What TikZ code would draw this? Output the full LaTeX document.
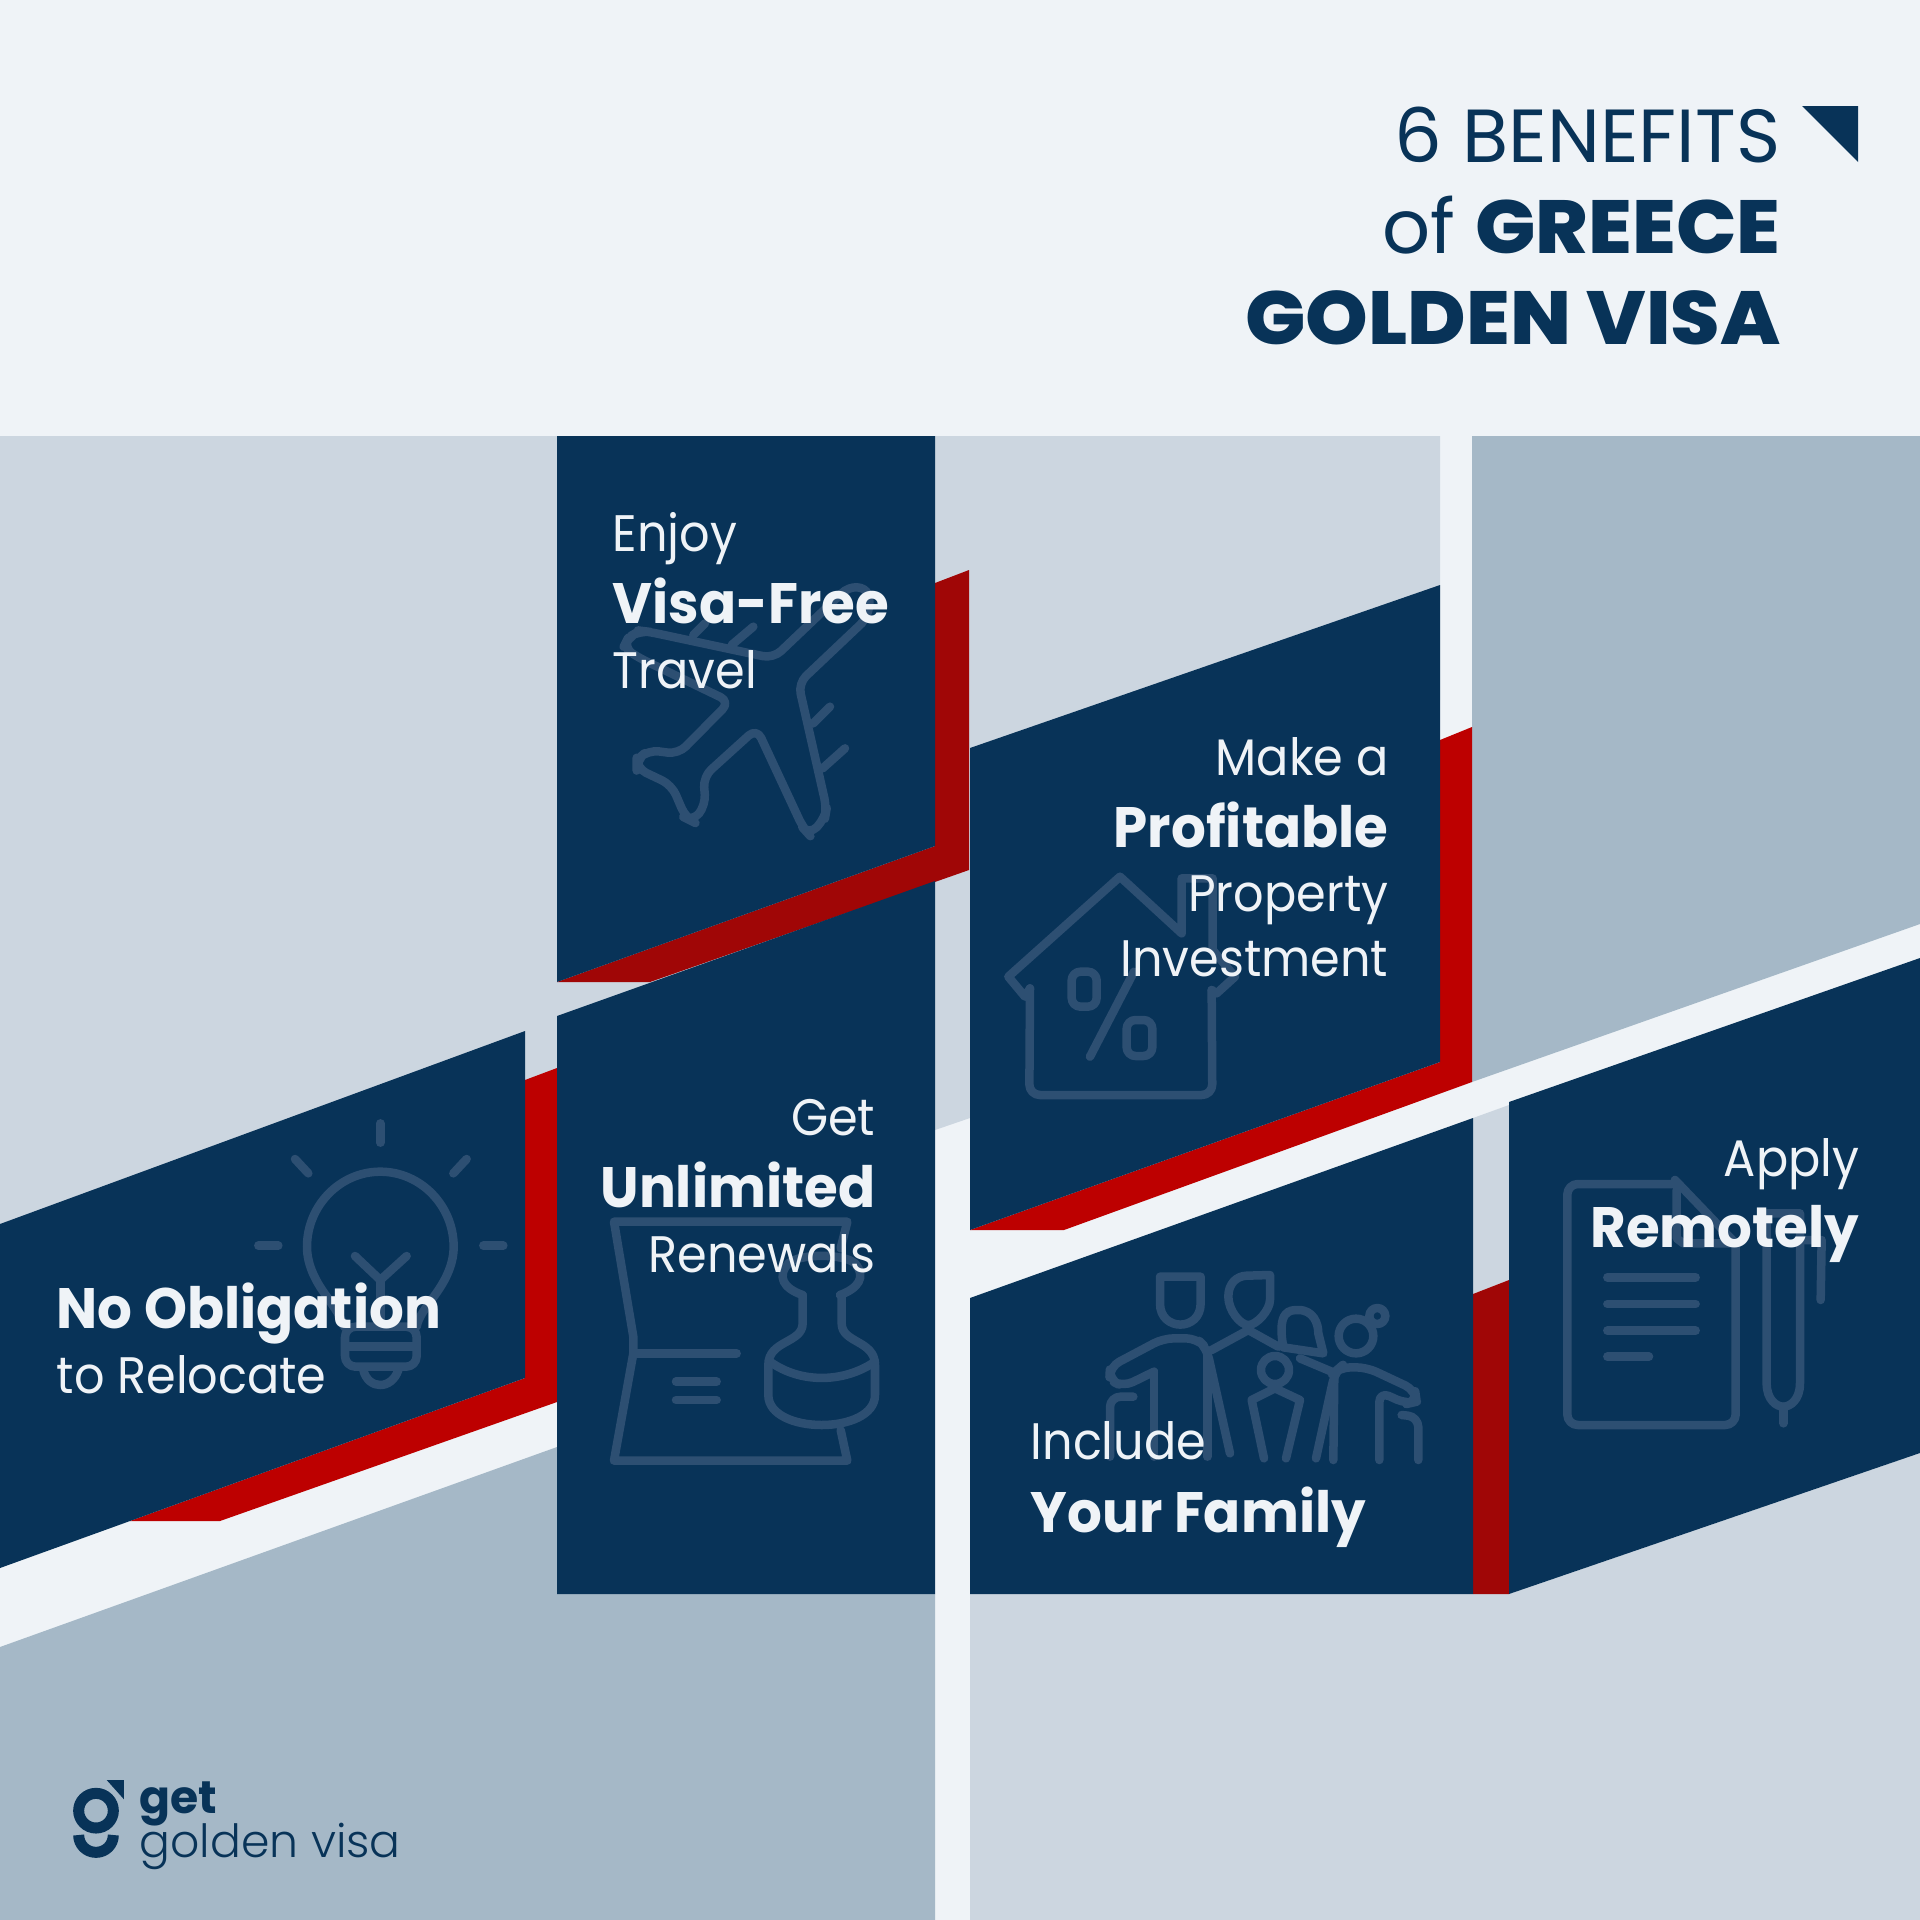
\documentclass[tikz,border=0pt]{standalone}
\usepackage{fontspec}
\setmainfont{Poppins}
\newfontfamily\bodyfont[FakeStretch=0.93]{Poppins}
\newfontfamily\heavyfont[FakeStretch=0.96]{Poppins}
\newfontfamily\titlefont[FakeStretch=1.06]{Poppins ExtraBold}
\newfontfamily\logofont{Poppins Light}
\definecolor{paper}{HTML}{EFF3F7}
\definecolor{pale}{HTML}{CCD6E0}
\definecolor{steel}{HTML}{A5B8C7}
\definecolor{navy}{HTML}{083358}
\definecolor{redbar}{HTML}{BD0000}
\definecolor{darkbar}{HTML}{A00606}
\definecolor{ghost}{HTML}{2D4F72}
\begin{document}
\begin{tikzpicture}[x=0.01cm,y=-0.01cm]
\tikzset{panel/.style={fill=navy},
  icon/.style={draw=ghost, line width=0.085cm, line join=round, line cap=round},
  soft/.style={icon, rounded corners=3pt},
  thin/.style={text=paper, inner sep=0pt, font=\fontsize{14.6}{14.6}\bodyfont},
  heavy/.style={text=paper, inner sep=0pt, font=\fontsize{16.2}{16.2}\heavyfont\bfseries},
  head/.style={text=navy, inner sep=0pt, anchor=base east, font=\fontsize{21.4}{21.4}\selectfont}}
\useasboundingbox (0,0) rectangle (1920,1920);
\fill[paper] (0,0) rectangle (1920,1920);
\fill[pale] (0,436) -- (1440,436) -- (1440,700) -- (970,1118) -- (935,1130) -- (0,1460) -- cycle;
\fill[steel] (1472,436) -- (1920,436) -- (1920,924) -- (1472,1082) -- cycle;
\fill[steel] (0,1647) -- (557,1447) -- (557,1594) -- (935,1594) -- (935,1920) -- (0,1920) -- cycle;
\fill[pale] (970,1594) -- (1509,1594) -- (1920,1453) -- (1920,1920) -- (970,1920) -- cycle;
\fill[pale] (1473,1118) -- (1509,1105) -- (1509,1280) -- (1473,1294) -- cycle;
\fill[darkbar] (935,583) -- (969,570) -- (969,870) -- (650,982) -- (557,982) -- (935,846) -- cycle;
\fill[redbar] (1472,727) -- (1440,740) -- (1440,1062) -- (970,1230) -- (1064,1230) -- (1472,1082) -- cycle;
\fill[redbar] (525,1080) -- (557,1068) -- (557,1402) -- (220,1521) -- (130,1521) -- (525,1378) -- cycle;
\fill[darkbar] (1473,1294) -- (1509,1280) -- (1509,1594) -- (1473,1594) -- cycle;
\fill[panel] (557,436) -- (935,436) -- (935,846) -- (557,982) -- cycle;
\fill[panel] (557,1016) -- (935,881) -- (935,1594) -- (557,1594) -- cycle;
\fill[panel] (970,748) -- (1440,585) -- (1440,1062) -- (970,1230) -- cycle;
\fill[panel] (0,1224) -- (525,1031) -- (525,1378) -- (130,1521) -- (0,1568) -- cycle;
\fill[panel] (970,1298) -- (1473,1118) -- (1473,1594) -- (970,1594) -- cycle;
\fill[panel] (1509,1102) -- (1920,958) -- (1920,1453) -- (1509,1594) -- cycle;
\fill[navy] (1802,106) -- (1858,106) -- (1858,162) -- cycle;
% plane
\begin{scope}[shift={(540,560)},scale=1/3]
\draw[soft] (965,190) -- (775,370) -- (860,745) -- (855,775) -- (808,825) -- (790,805) -- (650,505) -- (490,650) -- (497,735) -- (458,785) -- (438,775) -- (395,675) -- (290,625) -- (290,600) -- (325,570) -- (415,582) -- (570,425) -- (290,290) -- (250,262) -- (265,232) -- (300,212) -- (325,215) -- (700,295) -- (905,100);
\draw[icon] (905,100) .. controls (930,75) and (975,75) .. (985,105) .. controls (995,140) and (980,170) .. (965,190);
\draw[icon] (460,225) -- (495,190);
\draw[icon] (575,255) -- (640,200);
\draw[icon] (820,490) -- (870,440);
\draw[icon] (848,625) -- (915,565);
\end{scope}
% house
\begin{scope}[shift={(1000,850)},scale=1/3]
\draw[icon] (90,415) -- (75,440) -- (25,380) -- (360,80) -- (545,250) -- (545,85) -- (638,85) -- (638,300) -- (705,380) -- (650,430) -- (635,420);
\draw[soft] (90,415) -- (88,735) -- (637,735) -- (635,420);
\draw[icon,rounded corners=2.5pt] (215,365) rectangle (290,470);
\draw[icon,rounded corners=2.5pt] (380,510) rectangle (457,618);
\draw[icon] (270,620) -- (402,365);
\end{scope}
% bulb
\begin{scope}[shift={(240,1120)},scale=1/3]
\draw[icon] (421,10) -- (421,68);
\draw[icon] (165,117) -- (205,160);
\draw[icon] (680,117) -- (640,160);
\draw[icon] (55,377) -- (115,377);
\draw[icon] (730,377) -- (790,377);
\draw[icon] (312,620) .. controls (305,590) and (280,560) .. (257,525) .. controls (232,490) and (201,440) .. (201,380) .. controls (201,258) and (299,155) .. (421,155) .. controls (543,155) and (641,258) .. (641,380) .. controls (641,440) and (610,490) .. (585,525) .. controls (560,560) and (535,590) .. (530,620);
\draw[soft] (315,620) -- (530,620) -- (530,740) -- (315,740) -- cycle;
\draw[icon] (325,680) -- (520,680);
\draw[icon] (370,750) .. controls (385,810) and (455,810) .. (475,750);
\draw[icon] (345,408) -- (421,480) -- (500,408);
\draw[icon] (421,480) -- (421,610);
\end{scope}
% stamp
\begin{scope}[shift={(600,1190)},scale=1/3]
\draw[icon] (722,175) -- (742,95) -- (42,95) -- (100,440) -- (100,490) -- (42,812) -- (742,812) -- (722,720);
\draw[icon] (100,490) -- (410,490);
\draw[icon] (228,575) -- (350,575);
\draw[icon] (228,630) -- (350,630);
\draw[icon] (608,315) .. controls (550,295) and (530,260) .. (565,220) .. controls (600,190) and (730,190) .. (765,220) .. controls (800,260) and (775,295) .. (720,315);
\draw[icon] (608,315) -- (608,400) .. controls (608,460) and (505,450) .. (505,525) -- (505,615) .. controls (505,735) and (825,735) .. (825,615) -- (825,525) .. controls (825,450) and (725,460) .. (725,400) -- (725,320);
\draw[icon] (510,515) .. controls (600,580) and (730,580) .. (825,515);
\end{scope}
% family
\begin{scope}[shift={(1100,1260)},scale=1/3]
\draw[icon] (180,50) -- (302,50) -- (302,130) .. controls (302,215) and (180,215) .. (180,130) -- cycle;
\draw[soft] (162,335) -- (70,380) -- (28,360) -- (30,320) -- (190,235) -- (290,235) -- (320,265) -- (390,580);
\draw[icon] (162,335) -- (162,590);
\draw[icon] (322,270) -- (322,590);
\draw[soft] (100,410) -- (30,410) -- (30,590);
\draw[icon] (510,45) -- (510,120) .. controls (510,150) and (470,195) .. (445,195) .. controls (420,195) and (385,150) .. (385,110) .. controls (385,70) and (410,48) .. (440,47) -- cycle;
\draw[icon] (335,270) -- (445,210) -- (535,260);
\draw[icon] (550,262) .. controls (530,150) and (570,150) .. (595,150) .. controls (640,150) and (655,190) .. (655,220) -- (670,280) -- cycle;
\draw[icon] (600,295) -- (695,335);
\draw[icon] (525,330) circle[radius=42];
\draw[icon] (492,595) -- (455,420) -- (525,385) -- (600,420) -- (558,595);
\draw[icon] (768,228) circle[radius=52];
\draw[icon] (832,168) circle[radius=24];
\draw[soft] (648,595) -- (705,335) -- (720,322) -- (800,322) -- (945,390) -- (950,425) -- (920,432) -- (838,395) -- (838,600);
\draw[icon] (703,345) -- (700,600);
\draw[soft] (905,465) -- (955,470) -- (955,600);
\end{scope}
% document
\begin{scope}[shift={(1550,1160)},scale=1/3]
\draw[soft] (375,72) -- (52,72) -- (52,795) -- (557,795) -- (557,260);
\draw[icon] (375,72) -- (375,60) -- (557,250) -- (400,250) -- (380,235) -- (380,90);
\draw[icon] (172,352) -- (437,352);
\draw[icon] (172,432) -- (437,432);
\draw[icon] (172,512) -- (437,512);
\draw[icon] (172,590) -- (297,590);
\draw[icon] (650,160) -- (750,160) -- (750,670) .. controls (750,720) and (720,740) .. (700,740) .. controls (680,740) and (650,720) .. (650,670) -- cycle;
\draw[icon] (700,740) -- (700,790);
\draw[icon] (750,240) -- (815,240) -- (812,420);
\end{scope}
% logo
\begin{scope}[shift={(50,1760)},scale=1/3]
\draw[navy,line width=0.11cm] (138,152) circle[radius=52];
\draw[navy,line width=0.11cm] (86,225) .. controls (86,254) and (109,277) .. (138,277) .. controls (167,277) and (190,254) .. (190,225);
\fill[navy] (170,60) -- (222,60) -- (222,118) -- cycle;
\end{scope}
\node[head] (titleA) at (1781,162) {6 BENEFITS};
\node[head] (titleB) at (1781,253) {of {\titlefont GREECE}};
\node[head] (titleC) at (1781,344) {\titlefont GOLDEN VISA};
\node[thin,anchor=base west] (enjoyA) at (612,551) {Enjoy};
\node[heavy,anchor=base west] (enjoyB) at (612,623) {Visa-Free};
\node[thin,anchor=base west] (enjoyC) at (612,688) {Travel};
\node[thin,anchor=base east] (makeA) at (1389,775) {Make a};
\node[heavy,anchor=base east] (makeB) at (1389,847) {Profitable};
\node[thin,anchor=base east] (makeC) at (1389,911) {Property};
\node[thin,anchor=base east] (makeD) at (1389,976) {Investment};
\node[thin,anchor=base east] (getA) at (876,1135) {Get};
\node[heavy,anchor=base east] (getB) at (876,1207) {Unlimited};
\node[thin,anchor=base east] (getC) at (876,1272) {Renewals};
\node[heavy,anchor=base west] (noA) at (56,1328) {No Obligation};
\node[thin,anchor=base west] (noB) at (56,1393) {to Relocate};
\node[thin,anchor=base west] (famA) at (1030,1459) {Include};
\node[heavy,anchor=base west] (famB) at (1030,1532) {Your Family};
\node[thin,anchor=base east] (applyA) at (1860,1176) {Apply};
\node[heavy,anchor=base east] (applyB) at (1860,1247) {Remotely};
\node[text=navy,inner sep=0pt,anchor=base west,font=\fontsize{13}{13}\selectfont\bfseries] (logoA) at (139,1813) {get};
\node[text=navy,inner sep=0pt,anchor=base west,font=\fontsize{13}{13}\logofont] (logoB) at (139,1857) {golden visa};
\end{tikzpicture}
\end{document}
